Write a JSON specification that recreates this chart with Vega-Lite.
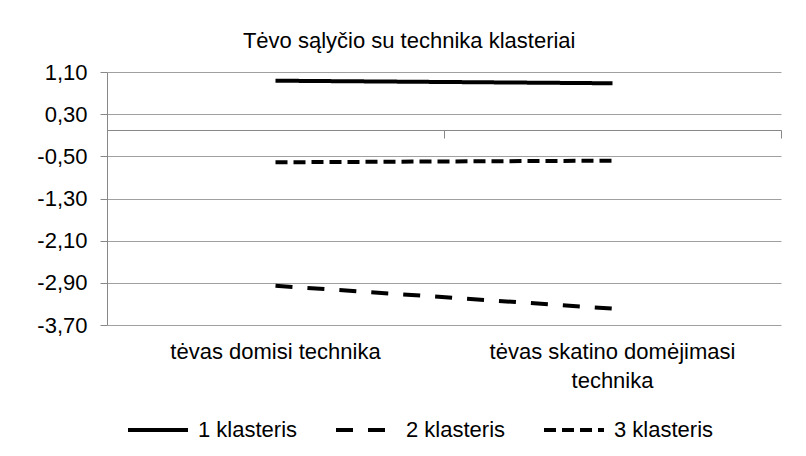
{
  "$schema": "https://vega.github.io/schema/vega-lite/v6.json",
  "width": 674,
  "height": 253,
  "autosize": {"type": "none"},
  "padding": {"left": 107, "top": 72, "right": 25, "bottom": 131},
  "background": "white",
  "title": {
    "text": "Tėvo sąlyčio su technika klasteriai",
    "font": "Liberation Sans",
    "fontSize": 22,
    "fontWeight": "normal",
    "color": "black",
    "anchor": "middle",
    "frame": "bounds",
    "offset": 8
  },
  "data": {
    "values": [
      {"kategorija": "tėvas domisi technika", "klasteris": "1 klasteris", "reiksme": 0.935},
      {"kategorija": "tėvas skatino domėjimasi technika", "klasteris": "1 klasteris", "reiksme": 0.886},
      {"kategorija": "tėvas domisi technika", "klasteris": "2 klasteris", "reiksme": -2.955},
      {"kategorija": "tėvas skatino domėjimasi technika", "klasteris": "2 klasteris", "reiksme": -3.39},
      {"kategorija": "tėvas domisi technika", "klasteris": "3 klasteris", "reiksme": -0.613},
      {"kategorija": "tėvas skatino domėjimasi technika", "klasteris": "3 klasteris", "reiksme": -0.582}
    ]
  },
  "layer": [
    {
      "mark": {"type": "line", "opacity": 0},
      "encoding": {
        "x": {
          "field": "kategorija",
          "type": "nominal",
          "sort": null,
          "bandPosition": 0.5,
          "scale": {"type": "band", "paddingInner": 0, "paddingOuter": 0},
          "axis": {
            "orient": "top",
            "offset": -58,
            "labels": false,
            "title": null,
            "grid": false,
            "domainColor": "#888888",
            "domainWidth": 1,
            "tickColor": "#888888",
            "tickBand": "extent",
            "tickSize": -8
          }
        },
        "y": {
          "field": "reiksme",
          "type": "quantitative",
          "scale": {"domain": [-3.7, 1.1], "nice": false, "zero": false}
        },
        "detail": {"field": "klasteris"}
      }
    },
    {
      "mark": {"type": "line", "strokeWidth": 4, "color": "black", "strokeCap": "butt"},
      "encoding": {
        "x": {
          "field": "kategorija",
          "type": "nominal",
          "sort": null,
          "bandPosition": 0.5,
          "scale": {"type": "band", "paddingInner": 0, "paddingOuter": 0},
          "axis": {
            "orient": "bottom",
            "title": null,
            "domain": false,
            "ticks": false,
            "grid": false,
            "labelAngle": 0,
            "labelFont": "Liberation Sans",
            "labelFontSize": 22,
            "labelColor": "black",
            "labelPadding": 16,
            "labelLineHeight": 29,
            "labelLimit": 0,
            "labelExpr": "datum.label == 'tėvas skatino domėjimasi technika' ? ['tėvas skatino domėjimasi', 'technika'] : datum.label"
          }
        },
        "y": {
          "field": "reiksme",
          "type": "quantitative",
          "scale": {"domain": [-3.7, 1.1], "nice": false, "zero": false},
          "axis": {
            "title": null,
            "values": [-3.7, -2.9, -2.1, -1.3, -0.5, 0.3, 1.1],
            "labelExpr": "(datum.value < 0 ? '-' : '') + replace(format(abs(datum.value), '.2f'), '.', ',')",
            "grid": true,
            "gridColor": "#a0a0a0",
            "domainColor": "#888888",
            "tickColor": "#888888",
            "tickSize": 7,
            "labelPadding": 13,
            "labelFont": "Liberation Sans",
            "labelFontSize": 22,
            "labelColor": "black"
          }
        },
        "strokeDash": {
          "field": "klasteris",
          "type": "nominal",
          "scale": {
            "domain": ["1 klasteris", "2 klasteris", "3 klasteris"],
            "range": [[1, 0], [17, 15], [12, 6]]
          },
          "legend": {
            "title": null,
            "orient": "none",
            "legendX": 19,
            "legendY": 326,
            "direction": "horizontal",
            "symbolType": "stroke",
            "symbolSize": 3600,
            "symbolStrokeWidth": 4,
            "symbolStrokeColor": "black",
            "labelFont": "Liberation Sans",
            "labelFontSize": 22,
            "labelColor": "black",
            "labelOffset": 8,
            "columnPadding": 30
          }
        }
      }
    }
  ],
  "resolve": {"axis": {"x": "independent"}},
  "config": {
    "view": {"stroke": null},
    "axis": {"labelFont": "Liberation Sans"}
  }
}
